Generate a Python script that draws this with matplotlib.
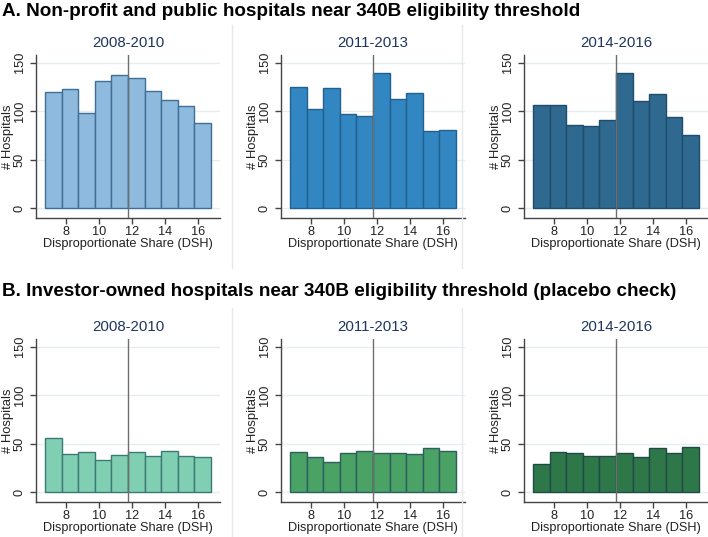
import matplotlib.pyplot as plt
from matplotlib.lines import Line2D

plt.rcParams['font.family'] = ['Liberation Sans', 'DejaVu Sans']

# Histograms: number of hospitals per DSH bin (bins 1 point wide)
bin_left = [6.75, 7.75, 8.75, 9.75, 10.75, 11.75, 12.75, 13.75, 14.75, 15.75]
bin_width = 1.0
threshold = 11.75
periods = ['2008-2010', '2011-2013', '2014-2016']

nonprofit_counts = [
    [120, 123, 98, 131, 137, 134, 121, 112, 105, 88],
    [125, 102, 124, 97, 95, 139, 113, 119, 80, 81],
    [106, 106, 86, 85, 91, 139, 111, 118, 94, 76],
]
investor_counts = [
    [56, 39, 42, 33, 38, 42, 37, 43, 37, 36],
    [42, 36, 31, 40, 43, 41, 40, 39, 46, 43],
    [29, 42, 40, 37, 37, 40, 36, 46, 40, 47],
]

nonprofit_colors = ['#8dbadd', '#3287c2', '#2f698f']
nonprofit_edges = ['#3f6f96', '#22618f', '#1f4d6c']
investor_colors = ['#80cfb3', '#4aa265', '#2e7749']
investor_edges = ['#3b7a72', '#2d5f5e', '#1f4a48']

fig = plt.figure(figsize=(7.08, 5.37), dpi=100)
W, H = 708, 537


def panel(left, bottom, counts, color, edge, period):
    # positions in pixels, converted to figure fractions
    ax = fig.add_axes([left / W, bottom / H, 184 / W, 163 / H])
    ax.bar(bin_left, counts, width=bin_width, align='edge', color=color,
           edgecolor=edge, linewidth=1, zorder=2)
    ax.axvline(threshold, color='#6e6e6e', linewidth=1, zorder=3)
    ax.set_xlim(6.2, 17.3)
    ax.set_ylim(-10, 158)
    ax.set_xticks([8, 10, 12, 14, 16])
    ax.set_yticks([0, 50, 100, 150])
    ax.set_yticklabels(['0', '50', '100', '150'], rotation=90, va='center')
    for y in [0, 50, 100, 150]:
        ax.axhline(y, color='#e6edf1', linewidth=1, zorder=1)
    for s in ['top', 'right']:
        ax.spines[s].set_visible(False)
    for s in ['left', 'bottom']:
        ax.spines[s].set_color('#444444')
        ax.spines[s].set_linewidth(1)
    ax.tick_params(colors='#444444', labelcolor='#222222', labelsize=9.2,
                   length=4, width=1, pad=2)
    ax.tick_params(axis='y', pad=3.5)
    ax.set_xlabel('Disproportionate Share (DSH)', fontsize=9.2, color='#222222', labelpad=0)
    ax.set_ylabel('# Hospitals', fontsize=9.4, color='#222222', labelpad=0)
    ax.set_title(period, color='#1f3560', fontsize=10.8, pad=6)
    return ax


lefts = [36, 281, 524]
for i in range(3):
    panel(lefts[i], 319, nonprofit_counts[i], nonprofit_colors[i], nonprofit_edges[i], periods[i])
    panel(lefts[i], 35, investor_counts[i], investor_colors[i], investor_edges[i], periods[i])

# faint separators between the combined graphs
for x in [232, 462]:
    fig.add_artist(Line2D([x / W, x / W], [1 - 25 / H, 1 - 268 / H], color='#e6e9ec', linewidth=1))
    fig.add_artist(Line2D([x / W, x / W], [1 - 308 / H, 0], color='#e6e9ec', linewidth=1))

fig.text(2 / W, 1 - 12 / H, 'A. Non-profit and public hospitals near 340B eligibility threshold',
         fontsize=13.6, fontweight='bold', va='center', ha='left')
fig.text(2 / W, 1 - 292 / H, 'B. Investor-owned hospitals near 340B eligibility threshold (placebo check)',
         fontsize=13.6, fontweight='bold', va='center', ha='left')

fig.savefig('out.png', dpi=100)
